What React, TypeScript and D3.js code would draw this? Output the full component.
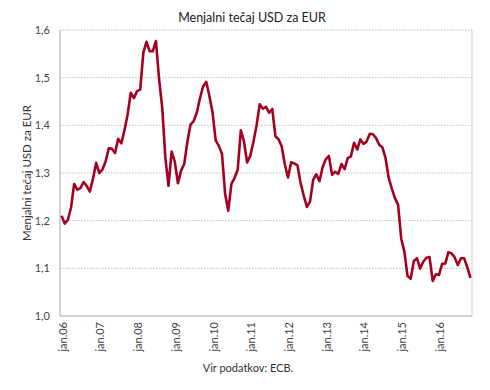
import React from "react";
import * as d3 from "d3";

const years = ["06", "07", "08", "09", "10", "11", "12", "13", "14", "15", "16"];
const rates = [
  1.2103, 1.1938, 1.202, 1.2271, 1.277, 1.265, 1.2684, 1.2811, 1.2727, 1.2611, 1.2881, 1.3213,
  1.2999, 1.3074, 1.3242, 1.3516, 1.3511, 1.3419, 1.3716, 1.3622, 1.3896, 1.4227, 1.4684, 1.457,
  1.4718, 1.4748, 1.5527, 1.5751, 1.5557, 1.5553, 1.577, 1.4975, 1.437, 1.3322, 1.2732, 1.3449,
  1.3239, 1.2785, 1.305, 1.319, 1.365, 1.4016, 1.4088, 1.4268, 1.4562, 1.4816, 1.4914, 1.4614,
  1.4272, 1.3686, 1.3569, 1.3406, 1.2565, 1.2209, 1.277, 1.2894, 1.3067, 1.3898, 1.3661, 1.322,
  1.336, 1.3649, 1.3999, 1.4442, 1.4349, 1.4388, 1.4264, 1.4343, 1.377, 1.3706, 1.3556, 1.3179,
  1.2905, 1.3224, 1.3201, 1.3162, 1.2789, 1.2526, 1.2288, 1.24, 1.2856, 1.2974, 1.2828, 1.3119,
  1.3288, 1.3359, 1.2964, 1.3026, 1.2982, 1.3189, 1.308, 1.331, 1.3348, 1.3635, 1.3493, 1.3704,
  1.361, 1.3659, 1.3823, 1.3813, 1.3732, 1.3592, 1.3539, 1.3316, 1.2901, 1.2673, 1.2472, 1.2331,
  1.1621, 1.135, 1.0838, 1.0779, 1.115, 1.1213, 1.0996, 1.1139, 1.1221, 1.1235, 1.0736, 1.0877,
  1.086, 1.1093, 1.11, 1.1339, 1.1311, 1.1229, 1.1069, 1.1212, 1.1212, 1.1026, 1.0799,
];
const yTicks = [1.0, 1.1, 1.2, 1.3, 1.4, 1.5, 1.6];
const title = "Menjalni tečaj USD za EUR";
const yTitle = "Menjalni tečaj USD za EUR";
const source = "Vir podatkov: ECB.";

export default function App() {
  const W = 490, H = 390;
  const left = 60, right = 472, top = 30, bottom = 316;
  const idx = rates.map((_, i) => i);
  const x = d3.scaleBand<number>().domain(idx).range([left, right]);
  const xc = (i: number) => (x(i) as number) + x.bandwidth() / 2;
  const y = d3.scaleLinear().domain([1.0, 1.6]).range([bottom, top]);
  const line = d3.line<number>().x((_, i) => xc(i)).y((d) => y(d));
  const font = "Lato, 'Open Sans', sans-serif";
  const fmt = (v: number) => v.toFixed(1).replace(".", ",");

  return (
    <svg width={W} height={H} style={{ position: "absolute", left: 0, top: 0, fontFamily: font }}>
      <rect width={W} height={H} fill="#fff" />
      <text x={252} y={22} textAnchor="middle" fontSize={12.5} fill="#222">{title}</text>
      {yTicks.slice(1).map((t) => (
        <line key={t} x1={left} x2={right} y1={y(t)} y2={y(t)} stroke="#bdbdbd" strokeWidth={1} strokeDasharray="1.5,1.5" />
      ))}
      <line x1={right} x2={right} y1={top} y2={bottom} stroke="#d0d0d0" />
      <line x1={left} x2={left} y1={top} y2={bottom} stroke="#a6a6a6" />
      <line x1={left} x2={right} y1={bottom} y2={bottom} stroke="#a6a6a6" />
      {yTicks.map((t) => (
        <text key={t} x={50} y={y(t) + 4} textAnchor="end" fontSize={11} fill="#444">{fmt(t)}</text>
      ))}
      {years.map((yr, k) => {
        const cx = xc(k * 12) + 1;
        return (
          <text key={yr} transform={`translate(${cx + 4},${bottom + 6}) rotate(-90)`} textAnchor="end" fontSize={11} fill="#444">
            {`jan.${yr}`}
          </text>
        );
      })}
      <text transform={`translate(31,173) rotate(-90)`} textAnchor="middle" fontSize={11.5} fill="#333">{yTitle}</text>
      <path d={line(rates) as string} fill="none" stroke="#A50021" strokeWidth={2.6} strokeLinejoin="round" />
      <text x={248} y={372} textAnchor="middle" fontSize={11} fill="#333">{source}</text>
    </svg>
  );
}
